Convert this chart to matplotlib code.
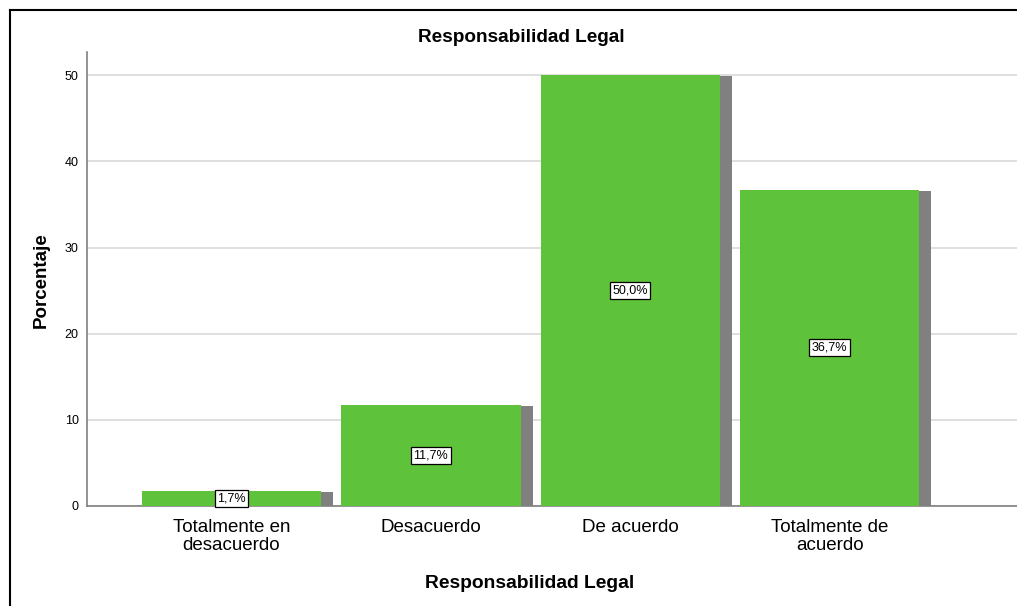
import matplotlib
matplotlib.use("Agg")
import matplotlib.pyplot as plt
from matplotlib.lines import Line2D

categories = ["Totalmente en\ndesacuerdo", "Desacuerdo", "De acuerdo", "Totalmente de\nacuerdo"]
values = [1.7, 11.7, 50.0, 36.7]
labels = ["1,7%", "11,7%", "50,0%", "36,7%"]
yticks = [0, 10, 20, 30, 40, 50]

plt.rcParams['font.family'] = ['Liberation Sans', 'DejaVu Sans']

W, H = 1017, 606
fig = plt.figure(figsize=(W/100, H/100), dpi=100)
ax = fig.add_axes([87/W, 1-506/H, (W-87)/W, (506-52)/H])

green = "#5EC23A"
shadow = "#808080"
bw = 0.9
sw = 0.06
x = list(range(len(categories)))
ax.bar([xi + bw/2 + sw/2 for xi in x], [v - 0.12 for v in values], width=sw, color=shadow, zorder=2)
ax.bar(x, values, width=bw, color=green, zorder=3)
for xi, v, lab in zip(x, values, labels):
    ax.text(xi, v/2, lab, ha='center', va='center', fontsize=9, zorder=5,
            bbox=dict(boxstyle='square,pad=0.2', fc='white', ec='black', lw=0.9))

ax.set_xlim(-0.725, 3.94)
ax.set_ylim(0, 52.7)
ax.set_yticks(yticks)
ax.set_xticks(x)
ax.set_xticklabels(categories, fontsize=13.5, linespacing=1.1)
ax.tick_params(axis='x', length=0, pad=9)
ax.tick_params(axis='y', length=0, labelsize=9, pad=6)
ax.yaxis.grid(True, color='#D9D9D9', lw=1.2, zorder=0)
ax.set_axisbelow(True)
for s in ['top', 'right']:
    ax.spines[s].set_visible(False)
for s in ['left', 'bottom']:
    ax.spines[s].set_color('#808080')
    ax.spines[s].set_linewidth(1.2)

fig.text(521/W, 1-37/H, "Responsabilidad Legal", ha='center', va='center', fontsize=13.7, fontweight='bold')
fig.text(530/W, 1-583/H, "Responsabilidad Legal", ha='center', va='center', fontsize=13.9, fontweight='bold')
fig.text(41/W, 1-280/H, "Porcentaje", ha='center', va='center', rotation=90, fontsize=13.5, fontweight='bold')

fig.add_artist(Line2D([9.5/W, 9.5/W], [0, 1-9.5/H], color='black', lw=1.5, transform=fig.transFigure))
fig.add_artist(Line2D([9.5/W, 1], [1-9.5/H, 1-9.5/H], color='black', lw=1.5, transform=fig.transFigure))

fig.savefig("out.png", dpi=100)
